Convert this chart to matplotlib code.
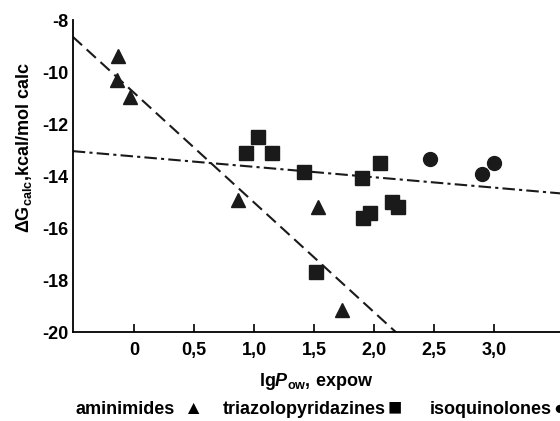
import numpy as np
import matplotlib
matplotlib.use('Agg')
import matplotlib.pyplot as plt

plt.rcParams['font.family'] = ['Liberation Sans', 'DejaVu Sans']
plt.rcParams['mathtext.fontset'] = 'custom'
plt.rcParams['mathtext.rm'] = 'Liberation Sans:bold'
plt.rcParams['mathtext.it'] = 'Liberation Sans:italic:bold'
plt.rcParams['mathtext.bf'] = 'Liberation Sans:bold'

# aminimides (triangles)
ami_x = [-0.13, -0.14, -0.03, 0.87, 1.53, 1.73]
ami_y = [-9.38, -10.3, -10.96, -14.9, -15.2, -19.15]

# triazolopyridazines (squares)
tri_x = [0.93, 1.03, 1.15, 1.42, 1.52, 1.90, 2.05, 1.91, 1.97, 2.15, 2.20]
tri_y = [-13.1, -12.5, -13.1, -13.85, -17.7, -14.08, -13.5, -15.6, -15.4, -15.0, -15.2]

# isoquinolones (circles)
iso_x = [2.47, 2.90, 3.00]
iso_y = [-13.35, -13.9, -13.5]

# regression lines: y = a + b*x
fit_dash = (-10.79, -4.22)
fit_dashdot = (-13.24, -0.40)

xticks = [0, 0.5, 1.0, 1.5, 2.0, 2.5, 3.0]
xtick_labels = ['0', '0,5', '1,0', '1,5', '2,0', '2,5', '3,0']
yticks = [-8, -10, -12, -14, -16, -18, -20]

fig = plt.figure(figsize=(5.6, 4.21), dpi=100)
ax = fig.add_axes([0.130, 0.211, 0.870, 0.741])

mc = '#1a1a1a'
ax.plot(ami_x, ami_y, '^', color=mc, markersize=10.5, linestyle='none')
ax.plot(tri_x, tri_y, 's', color=mc, markersize=9.5, linestyle='none')
ax.plot(iso_x, iso_y, 'o', color=mc, markersize=10, linestyle='none')

xl = np.array([-0.51, 3.6])
ax.plot(xl, fit_dash[0] + fit_dash[1] * xl, color=mc, lw=1.5,
        dashes=(6, 3))
ax.plot(xl, fit_dashdot[0] + fit_dashdot[1] * xl, color=mc, lw=1.5,
        dashes=(6, 2, 1.5, 2))

ax.set_xlim(-0.51, 3.55)
ax.set_ylim(-20, -8)
ax.spines['top'].set_visible(False)
ax.spines['right'].set_visible(False)
ax.spines['left'].set_linewidth(1.3)
ax.spines['bottom'].set_linewidth(1.3)

ax.set_xticks(xticks)
ax.set_xticklabels(xtick_labels, fontsize=13, fontweight='bold')
ax.set_yticks(yticks)
ax.set_yticklabels([str(v) for v in yticks], fontsize=13, fontweight='bold')
ax.tick_params(axis='x', direction='in', length=6, width=1.2, pad=7)
ax.tick_params(axis='y', length=0, pad=3)

ax.set_xlabel(r'lg$\mathit{P}_{\mathrm{ow}}$, expow', fontsize=13,
              fontweight='bold', labelpad=9)
ax.set_ylabel(r'$\Delta\mathrm{G}_{\mathrm{calc}}$,kcal/mol calc', fontsize=13,
              fontweight='bold', labelpad=5)
ax.yaxis.set_label_coords(-0.08, 0.59)

ly = 0.016
fig.text(75 / 560, ly, 'aminimides', fontsize=13, fontweight='bold')
fig.text(183 / 560, ly, '\u25b2', fontsize=14)
fig.text(223 / 560, ly, 'triazolopyridazines', fontsize=13, fontweight='bold')
fig.text(388 / 560, ly, '\u25a0', fontsize=17)
fig.text(430 / 560, ly, 'isoquinolones', fontsize=13, fontweight='bold')
fig.text(553 / 560, ly, '\u25cf', fontsize=14)

fig.savefig('out.png', dpi=100)
